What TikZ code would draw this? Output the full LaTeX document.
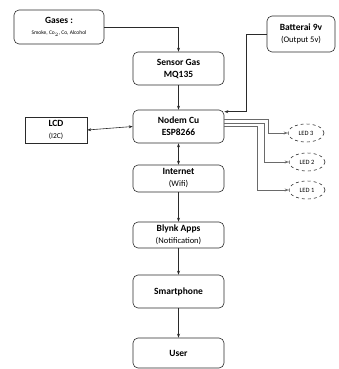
\documentclass[tikz,border=0pt]{standalone}
\usepackage{fontspec}
\setmainfont{Carlito}
\usetikzlibrary{arrows.meta,shapes.geometric}
\definecolor{ink}{HTML}{2A2A2A}
\definecolor{wire}{HTML}{6A6A6A}

\begin{document}
\begin{tikzpicture}[x=1pt,y=-1pt,>={Stealth[length=4pt,width=3pt]},line width=0.6pt,
  block/.style={draw=ink,rounded corners=5pt,minimum width=91pt,align=center,inner sep=1pt},
  plainbox/.style={draw=ink,minimum width=62pt,minimum height=26pt,align=center,inner sep=1pt},
  led/.style={draw=ink,dashed,ellipse,minimum width=36pt,minimum height=18pt,inner sep=0pt,
    font=\fontsize{6.5}{7}\selectfont},
  title/.style={font=\fontsize{9.5}{11}\selectfont\bfseries}]
  \useasboundingbox (0,0) rectangle (339,369);
  % main chain
  \node[block,minimum width=90pt,minimum height=34pt] (gases) at (59,27)
    {{\fontsize{9.5}{11}\selectfont\bfseries Gases :}\\[-1pt]{\fontsize{5.5}{7}\selectfont Smoke, Co$_2$, Co, Alcohol}};
  \node[block,minimum height=33pt] (sensor) at (178.5,68.5)
    {{\fontsize{9.5}{11}\selectfont\bfseries Sensor Gas}\\{\fontsize{9.5}{11}\selectfont\bfseries MQ135}};
  \node[block,minimum height=33pt] (nodemcu) at (178.5,126.5)
    {{\fontsize{9.5}{11}\selectfont\bfseries Nodem Cu}\\{\fontsize{9.5}{11}\selectfont\bfseries ESP8266}};
  \node[block,minimum height=27pt] (internet) at (178.5,178.5)
    {{\fontsize{9.5}{10}\selectfont\bfseries Internet}\\{\fontsize{8.5}{9}\selectfont (Wifi)}};
  \node[block,minimum height=26pt] (blynk) at (178.5,235)
    {{\fontsize{9.5}{10}\selectfont\bfseries Blynk Apps}\\{\fontsize{8.5}{9}\selectfont (Notification)}};
  \node[block,minimum height=33pt,title] (phone) at (178.5,291.5) {Smartphone};
  \node[block,minimum height=30pt,title] (user) at (178.5,353) {User};
  % side parts
  \node[block,minimum width=68pt,minimum height=36pt] (battery) at (301,34)
    {{\fontsize{9.5}{11}\selectfont\bfseries Batterai 9v}\\{\fontsize{8.5}{10}\selectfont (Output 5v)}};
  \node[plainbox] (lcd) at (56,130)
    {{\fontsize{9.5}{10}\selectfont\bfseries LCD}\\{\fontsize{7.5}{9}\selectfont (I2C)}};
  \node[led] (led3) at (306,133) {LED 3};
  \node[led] (led2) at (307,162) {LED 2};
  \node[led] (led1) at (307,190) {LED 1};
  % connectors
  \draw[->,ink] (gases.east) -| (sensor.north);
  \draw[->,ink] (sensor) -- (nodemcu);
  \draw[->,ink] (battery.west) -- ++(-20,0) |- ([yshift=-2pt]nodemcu.north east);
  \draw[<->,ink] (nodemcu.west) -- (lcd.east);
  \draw[<->,ink] (nodemcu) -- (internet);
  \draw[->,ink] (internet) -- (blynk);
  \draw[->,ink] (blynk) -- (phone);
  \draw[->,ink] (phone) -- (user);
  % led wires
  \draw[->,wire] ([yshift=7pt]nodemcu.east) -- ++(44,0) |- (led3.west);
  \draw[->,wire] ([yshift=3.5pt]nodemcu.east) -- ++(40,0) |- (led2.west);
  \draw[->,wire] (nodemcu.east) -- ++(33,0) |- (led1.west);
\end{tikzpicture}
\end{document}
